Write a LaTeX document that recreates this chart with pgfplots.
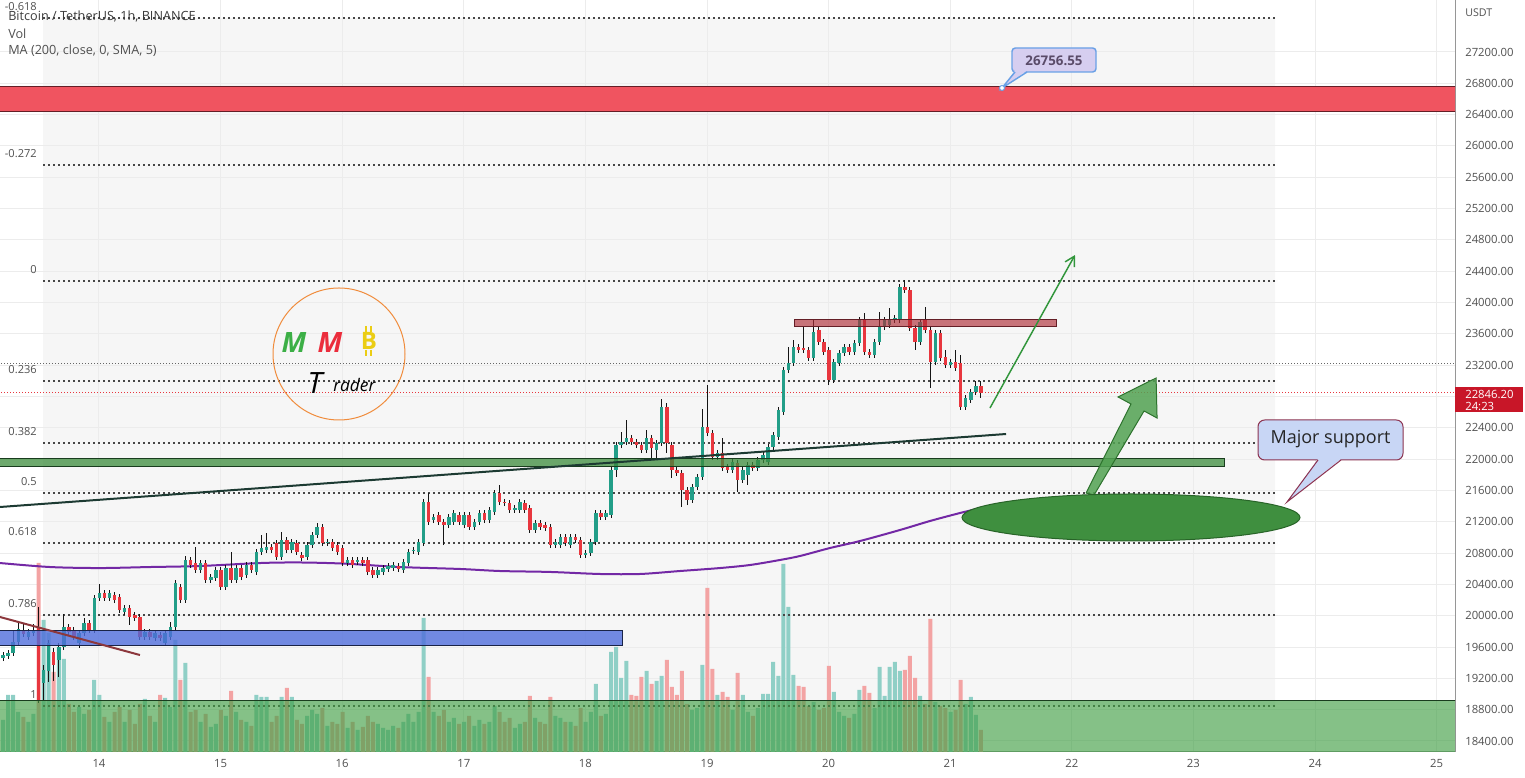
\documentclass[border=0pt]{standalone}
\usepackage{pgfplots}
\pgfplotsset{compat=1.18}
\usepackage{pgfplotstable}
\usepackage{fontspec}
\setmainfont{Open Sans}
\usetikzlibrary{arrows.meta}
\pgfplotsset{set layers}

\definecolor{upc}{RGB}{34,158,136}
\definecolor{dnc}{RGB}{232,54,62}
\definecolor{volup}{RGB}{143,207,198}
\definecolor{voldn}{RGB}{243,163,163}
\definecolor{wick}{RGB}{20,20,20}
\definecolor{gridc}{RGB}{236,236,236}
\definecolor{fibbg}{RGB}{246,246,246}
\definecolor{fibln}{RGB}{70,70,70}
\definecolor{tickc}{RGB}{80,80,80}
\definecolor{axisc}{RGB}{150,150,150}
\definecolor{zred}{RGB}{240,84,96}
\definecolor{zredb}{RGB}{100,30,38}
\definecolor{zres}{RGB}{175,45,55}
\definecolor{zgreen}{RGB}{60,140,60}
\definecolor{zgreenb}{RGB}{25,60,30}
\definecolor{zblue}{RGB}{80,110,220}
\definecolor{zblueb}{RGB}{25,35,70}
\definecolor{zbot}{RGB}{67,160,71}
\definecolor{trend}{RGB}{28,58,50}
\definecolor{brownl}{RGB}{140,55,60}
\definecolor{mac}{RGB}{115,40,165}
\definecolor{arrowg}{RGB}{50,150,60}
\definecolor{arrowf}{RGB}{82,162,82}
\definecolor{arrowb}{RGB}{45,115,45}
\definecolor{ellg}{RGB}{63,143,63}
\definecolor{ellgb}{RGB}{40,100,40}
\definecolor{calloutfill}{RGB}{200,214,245}
\definecolor{calloutb}{RGB}{140,50,80}
\definecolor{pxfill}{RGB}{214,206,240}
\definecolor{pxb}{RGB}{105,160,230}
\definecolor{pxtext}{RGB}{90,75,105}
\definecolor{curred}{RGB}{200,22,40}
\definecolor{logoorange}{RGB}{240,140,60}
\definecolor{mgreen}{RGB}{60,175,70}
\definecolor{mred}{RGB}{235,45,60}
\definecolor{btcy}{RGB}{235,205,20}
\definecolor{hdrc}{RGB}{60,60,60}

\pgfplotsset{fibline/.style={draw=fibln, line width=1.5pt, dash pattern=on 1.5pt off 2.25pt}}

% hourly candles BTCUSDT, from 13 Jan ~05:00, open high low close volume(px)
\pgfplotstableread{
o h l c v
19460 19540 19420 19500 32
19490 19560 19450 19520 57
19520 19818 19486 19665 57
19665 19920 19626 19831 40
19818 19894 19729 19767 35
19729 19830 19690 19792 30
19780 19894 19740 19818 38
19856 20111 18886 18924 189
19141 19371 18924 19307 132
19294 19690 19154 19652 119
19537 19588 19166 19371 80
19435 19652 19218 19601 105
19601 20022 19562 19856 93
19856 19894 19754 19792 48
19818 19856 19690 19729 40
19652 19818 19588 19780 45
19780 19971 19740 19907 38
19907 19945 19780 19818 42
19818 20265 19780 20227 72
20227 20405 20190 20290 57
20290 20330 20190 20227 35
20227 20330 20190 20290 30
20265 20300 20160 20201 40
20240 20280 20035 20073 45
20048 20137 20010 20099 30
20099 20137 19882 19984 42
20009 20048 19933 19971 28
19984 20022 19690 19729 48
19729 19830 19690 19792 53
19792 19830 19690 19729 36
19716 19818 19678 19780 30
19754 19792 19678 19716 57
19652 19818 19614 19780 54
19729 19920 19690 19856 45
19856 20456 19818 20418 112
20367 20405 20163 20201 72
20201 20763 20163 20712 89
20712 20750 20610 20648 40
20674 20878 20546 20584 42
20584 20712 20546 20674 30
20674 20712 20418 20456 38
20456 20533 20418 20495 25
20482 20622 20444 20584 28
20584 20622 20329 20367 42
20367 20648 20329 20610 36
20610 20814 20418 20456 61
20456 20648 20418 20610 40
20610 20648 20456 20495 32
20520 20686 20482 20648 30
20648 20686 20546 20584 26
20559 20852 20520 20814 57
20814 21031 20776 20865 55
20840 21057 20800 20878 55
20878 20916 20800 20840 30
20929 20967 20712 20750 36
20750 21069 20712 20967 55
20967 21005 20800 20840 64
20840 20980 20800 20942 55
20929 20967 20776 20814 32
20776 20814 20700 20738 28
20750 20942 20712 20903 36
20903 21069 20865 21031 42
21031 21184 20993 21133 38
21133 21171 20890 20929 44
20929 20980 20890 20942 26
20942 20980 20827 20865 30
20903 20942 20776 20814 28
20865 20903 20635 20674 40
20674 20750 20635 20712 24
20712 20750 20610 20648 30
20686 20750 20648 20712 22
20712 20750 20635 20674 25
20712 20750 20520 20559 36
20584 20622 20482 20520 30
20520 20622 20482 20584 28
20559 20648 20520 20610 24
20597 20674 20559 20635 22
20610 20686 20572 20648 26
20635 20674 20559 20597 24
20584 20725 20546 20686 30
20674 20852 20635 20814 38
20827 20878 20789 20840 30
20814 20980 20776 20942 40
20929 21490 20890 21452 134
21452 21567 21159 21197 75
21223 21299 21184 21261 40
21287 21325 21159 21197 36
21197 21235 20903 21159 42
21159 21299 21120 21261 30
21197 21350 21159 21312 34
21287 21325 21159 21197 28
21159 21325 21120 21287 30
21287 21325 21095 21133 36
21133 21235 21095 21197 26
21197 21350 21159 21312 32
21312 21350 21184 21223 28
21223 21388 21184 21350 30
21325 21605 21287 21567 46
21567 21670 21414 21452 40
21452 21490 21400 21440 30
21440 21478 21312 21350 34
21350 21414 21312 21376 24
21350 21490 21312 21452 28
21440 21478 21312 21350 30
21376 21414 21057 21095 56
21095 21223 21057 21184 34
21184 21223 21095 21133 30
21159 21197 21082 21120 28
21133 21171 20865 20903 55
20903 20980 20865 20942 36
20903 21044 20865 21005 34
21005 21044 20890 20929 30
20903 21044 20865 21005 30
21005 21044 20929 20967 26
20967 21005 20738 20776 44
20776 20840 20738 20801 30
20801 20980 20763 20942 40
20942 21350 20903 21312 68
21312 21350 21223 21261 36
21261 21350 21223 21312 38
21287 21900 21248 21861 100
21861 22219 21772 22181 105
22181 22346 22142 22219 74
22219 22500 22181 22270 91
22270 22308 22181 22219 57
22219 22257 22142 22181 56
22181 22219 22078 22117 75
22117 22372 22078 22270 81
22270 22308 21989 22142 68
22117 22244 21989 22206 71
22206 22768 22168 22666 76
22666 22717 22078 22206 92
22181 22219 21759 21861 65
21861 21900 21785 21823 57
21823 21861 21389 21606 81
21606 21644 21414 21478 48
21478 21682 21440 21644 42
21644 21810 21606 21772 44
21772 22640 21734 22410 87
22410 22947 22295 22334 164
22334 22372 21989 22027 83
22027 22117 21989 22078 57
22078 22270 21849 21887 60
21900 21938 21823 21861 55
21861 22002 21823 21963 42
21951 21989 21580 21734 79
21734 21900 21696 21861 57
21797 21963 21670 21925 40
21925 21963 21849 21887 36
21887 22027 21849 21989 44
21989 22091 21951 22053 58
21963 22193 21925 22155 58
22155 22346 22117 22308 90
22283 22666 22244 22628 76
22602 23176 22564 23138 188
23138 23432 23100 23228 145
23228 23521 23190 23432 77
23432 23470 23356 23394 66
23420 23688 23356 23394 65
23394 23432 23254 23292 46
23292 23790 23254 23624 50
23649 23688 23458 23496 42
23496 23534 23330 23368 44
23394 23432 22947 23011 86
23011 23279 22973 23241 60
23228 23394 23190 23356 40
23356 23470 23318 23432 36
23432 23470 23330 23368 34
23368 23521 23330 23483 38
23483 23815 23445 23777 62
23777 23866 23330 23368 66
23368 23407 23292 23330 59
23330 23534 23292 23496 44
23496 23879 23458 23688 85
23688 23815 23649 23777 56
23713 23930 23675 23777 85
23777 23841 23739 23803 90
23777 24237 23739 24199 81
24199 24288 24122 24160 82
24160 24199 23637 23675 96
23675 23713 23394 23496 74
23496 23790 23458 23752 56
23777 23943 23611 23649 48
23649 23688 22909 23241 133
23241 23649 23203 23611 50
23611 23649 23254 23292 46
23305 23394 23164 23202 44
23202 23279 23164 23241 40
23241 23394 23126 23164 42
23228 23330 22628 22666 72
22666 22819 22628 22781 48
22755 22895 22717 22857 55
22857 22998 22819 22934 37
22934 22998 22781 22846 22
}\candles

\begin{document}
\begin{tikzpicture}
% volume pane, fib background and grid
\begin{axis}[
  at={(0,0)}, anchor=south west,
  scale only axis, width=1091.25pt, height=564pt,
  xmin=13.186, xmax=25.151, ymin=0, ymax=752,
  axis line style={draw=none}, tick style={draw=none},
  xtick={14,...,25}, ytick={11.0,42.32,...,702},
  xticklabels={}, yticklabels={},
  grid=major, major grid style={draw=gridc, line width=0.75pt},
]
\addplot[on layer=axis background, fill=fibbg, draw=none] coordinates {(13.54,46.2) (23.671,46.2) (23.671,734.1) (13.54,734.1) (13.54,46.2)};
\addplot[ybar, bar width=3pt, bar shift=0pt, fill=volup, draw=none]
  table[x expr=13.211+\coordindex/24, y expr={\thisrow{c}>=\thisrow{o} ? \thisrow{v} : nan}] {\candles};
\addplot[ybar, bar width=3pt, bar shift=0pt, fill=voldn, draw=none]
  table[x expr=13.211+\coordindex/24, y expr={\thisrow{c}<\thisrow{o} ? \thisrow{v} : nan}] {\candles};
\end{axis}

% price pane
\begin{axis}[
  at={(0,0)}, anchor=south west,
  scale only axis, width=1091.25pt, height=564pt,
  xmin=13.186, xmax=25.151, ymin=18259.5, ymax=27864,
  axis x line*=bottom, axis y line*=right,
  axis line style={draw=axisc, line width=0.75pt},
  major tick length=0pt,
  xtick={14,...,25},
  ytick={18400,18800,19200,19600,20000,20400,20800,21200,21600,22000,22400,23200,23600,24000,24400,24800,25200,25600,26000,26400,26800,27200},
  scaled y ticks=false,
  yticklabel style={/pgf/number format/fixed, /pgf/number format/fixed zerofill,
    /pgf/number format/precision=2, /pgf/number format/1000 sep={},
    /pgf/number format/assume math mode=true,
    font=\fontsize{8.5}{10}\selectfont, text=tickc, inner sep=0pt, anchor=west},
  yticklabel shift=7.5pt,
  xticklabel style={/pgf/number format/assume math mode=true,
    font=\fontsize{8.5}{10}\selectfont, text=tickc, inner sep=0pt, anchor=north},
  xticklabel shift=5pt,
  candle/.style={draw=none, no markers, mark size=0pt},
]
% fibonacci levels
\addplot[fibline] coordinates {(13.54,27636) (23.671,27636)};
\addplot[fibline] coordinates {(13.54,25757) (23.671,25757)};
\addplot[fibline] coordinates {(13.54,24280) (23.671,24280)};
\addplot[fibline] coordinates {(13.54,22999) (23.671,22999)};
\addplot[fibline] coordinates {(13.54,22206) (23.671,22206)};
\addplot[fibline] coordinates {(13.54,21565) (23.671,21565)};
\addplot[fibline] coordinates {(13.54,20924) (23.671,20924)};
\addplot[fibline] coordinates {(13.54,20012) (23.671,20012)};
\addplot[fibline] coordinates {(13.54,18850) (23.671,18850)};
% thin horizontal lines
\addplot[draw=black!60, line width=0.75pt, dash pattern=on 0.75pt off 1.5pt] coordinates {(13,23215) (26,23215)};
\addplot[draw=dnc, line width=0.75pt, dash pattern=on 0.75pt off 1.5pt] coordinates {(13,22846) (26,22846)};
% MA 200
\addplot[smooth, draw=mac, line width=1.5pt] coordinates {
(13.186,20673) (13.597,20622) (14.008,20609) (14.42,20622) (14.831,20635)
(15.324,20673) (15.653,20680) (16.023,20665) (16.475,20622) (16.969,20597)
(17.298,20571) (17.709,20559) (18.12,20533) (18.449,20533) (18.778,20571)
(19.107,20609) (19.354,20648) (19.6,20712) (19.765,20763) (20.012,20865)
(20.258,20954) (20.587,21095) (20.834,21210) (21.081,21312) (21.253,21376)};
% candles: wicks then bodies
\addplot[candle, error bars/.cd, y dir=plus, y explicit, error mark=none,
  error bar style={draw=wick, line width=0.75pt, solid}]
  table[x expr=13.211+\coordindex/24, y=l, y error plus expr=\thisrow{h}-\thisrow{l}] {\candles};
\addplot[candle, error bars/.cd, y dir=plus, y explicit, error mark=none,
  error bar style={draw=upc, line width=2.6pt, solid}]
  table[x expr=13.211+\coordindex/24, y expr={\thisrow{c}>=\thisrow{o} ? \thisrow{o} : nan},
        y error plus expr={max(\thisrow{c}-\thisrow{o},12)}] {\candles};
\addplot[candle, error bars/.cd, y dir=plus, y explicit, error mark=none,
  error bar style={draw=dnc, line width=2.6pt, solid}]
  table[x expr=13.211+\coordindex/24, y expr={\thisrow{c}<\thisrow{o} ? \thisrow{c} : nan},
        y error plus expr={max(\thisrow{o}-\thisrow{c},12)}] {\candles};
% zones
\addplot[fill=zred, draw=zredb, line width=0.75pt] coordinates {(13,26434) (26,26434) (26,26753) (13,26753) (13,26434)};
\addplot[fill=zres, fill opacity=0.65, draw=zredb, line width=0.75pt] coordinates {(19.716,23688) (21.878,23688) (21.878,23777) (19.716,23777) (19.716,23688)};
\addplot[fill=zgreen, fill opacity=0.75, draw=zgreenb, line width=0.75pt] coordinates {(13,21912) (23.252,21912) (23.252,22014) (13,22014) (13,21912)};
\addplot[fill=zblue, fill opacity=0.8, draw=zblueb, line width=0.75pt] coordinates {(13,19626) (18.301,19626) (18.301,19805) (13,19805) (13,19626)};
% trend lines
\addplot[draw=trend, line width=1.5pt] coordinates {(13.1,21379) (21.459,22321)};
\addplot[draw=brownl, line width=1.5pt] coordinates {(13.1,20020) (14.337,19498)};
% bottom green zone over the volume
\addplot[fill=zbot, fill opacity=0.65, draw=zgreenb, line width=0.75pt] coordinates {(13,18100) (26,18100) (26,18911) (13,18911) (13,18100)};
% arrows
\addplot[fill=arrowf, fill opacity=0.85, draw=arrowb, line width=0.75pt] coordinates {
(22.117,21567) (22.487,22704) (22.380,22794) (22.693,23036) (22.701,22525) (22.594,22615) (22.183,21542) (22.117,21567)};
\addplot[draw=arrowg, line width=1.1pt, -{Straight Barb[length=7pt, width=8pt]}] coordinates {(21.327,22653) (22.026,24607)};
\end{axis}

% annotations in pixel units of the 1525x778 frame
\begin{scope}[x=0.75pt, y=-0.75pt, shift={(0pt,564pt)}]
\foreach \lab/\yy in {-0.618/7, -0.272/154, 0/270, 0.236/370, 0.382/432, 0.5/482, 0.618/532, 0.786/604, 1/695}
  \node[anchor=east, inner sep=0pt, font=\fontsize{8.3}{10}\selectfont, text=tickc] at (37,\yy) {\lab};
\node[anchor=west, inner sep=0pt, font=\fontsize{9.5}{11}\selectfont, text=hdrc] at (8,17) {Bitcoin / TetherUS, 1h, BINANCE};
\node[anchor=west, inner sep=0pt, font=\fontsize{9.5}{11}\selectfont, text=tickc] at (8,34) {Vol};
\node[anchor=west, inner sep=0pt, font=\fontsize{9.5}{11}\selectfont, text=tickc] at (8,51) {MA (200, close, 0, SMA, 5)};
% support ellipse
\filldraw[fill=ellg, draw=ellgb, line width=0.75pt] (1131,517.5) ellipse[x radius=169, y radius=23.5];
% price callout
\draw[pxb, line width=1.1pt, fill=pxfill, rounded corners=2.5pt] (1012,48) rectangle (1096,72);
\fill[pxfill] (1015,70.6) -- (1002,88) -- (1027,70.6) -- cycle;
\draw[pxb, line width=1.1pt] (1015,72) -- (1002,88) -- (1027,72);
\filldraw[fill=white, draw=pxb, line width=0.75pt] (1002,88) circle[radius=2.5];
\node[font=\fontsize{10}{12}\selectfont\bfseries, text=pxtext] at (1054,60.5) {26756.55};
% major support callout
\draw[calloutb, line width=0.75pt, fill=calloutfill, rounded corners=5pt] (1258,420) rectangle (1403,460);
\fill[calloutfill] (1318,459) -- (1287,502) -- (1341,459) -- cycle;
\draw[calloutb, line width=0.75pt] (1318,460) -- (1287,502) -- (1341,460);
\node[font=\fontsize{13.5}{16}\selectfont, text=black!85] at (1330.5,439) {Major support};
% current price tag
\fill[curred] (1455,387) rectangle (1523,412);
\node[anchor=west, inner sep=0pt, font=\fontsize{8.5}{10}\selectfont, text=white] at (1465,394) {22846.20};
\node[anchor=west, inner sep=0pt, font=\fontsize{8.5}{10}\selectfont, text=white] at (1465,406) {24:23};
\node[anchor=west, inner sep=0pt, font=\fontsize{8}{10}\selectfont, text=tickc] at (1465,13) {USDT};
% logo
\draw[logoorange, line width=0.75pt] (339,354) circle[radius=66];
\node[font=\fontsize{21}{21}\selectfont\bfseries\itshape, text=mgreen] at (294,343) {M};
\node[font=\fontsize{21}{21}\selectfont\bfseries\itshape, text=mred] at (330,343) {M};
\node[font=\fontsize{18}{18}\selectfont\bfseries, text=btcy] at (369,341) {B};
\draw[btcy, line width=1.5pt] (366,326) -- (366,332) (371,326) -- (371,332) (366,350) -- (366,356) (371,350) -- (371,356);
\node[font=\fontsize{22}{22}\selectfont\itshape, text=black] at (315,383) {T};
\node[anchor=base west, inner sep=0pt, font=\fontsize{13}{13}\selectfont\itshape, text=black] at (333,392) {rader};
\end{scope}

\pgfresetboundingbox
\path[use as bounding box] (0,-19.5pt) rectangle (1143.75pt,564pt);
\end{tikzpicture}
\end{document}
